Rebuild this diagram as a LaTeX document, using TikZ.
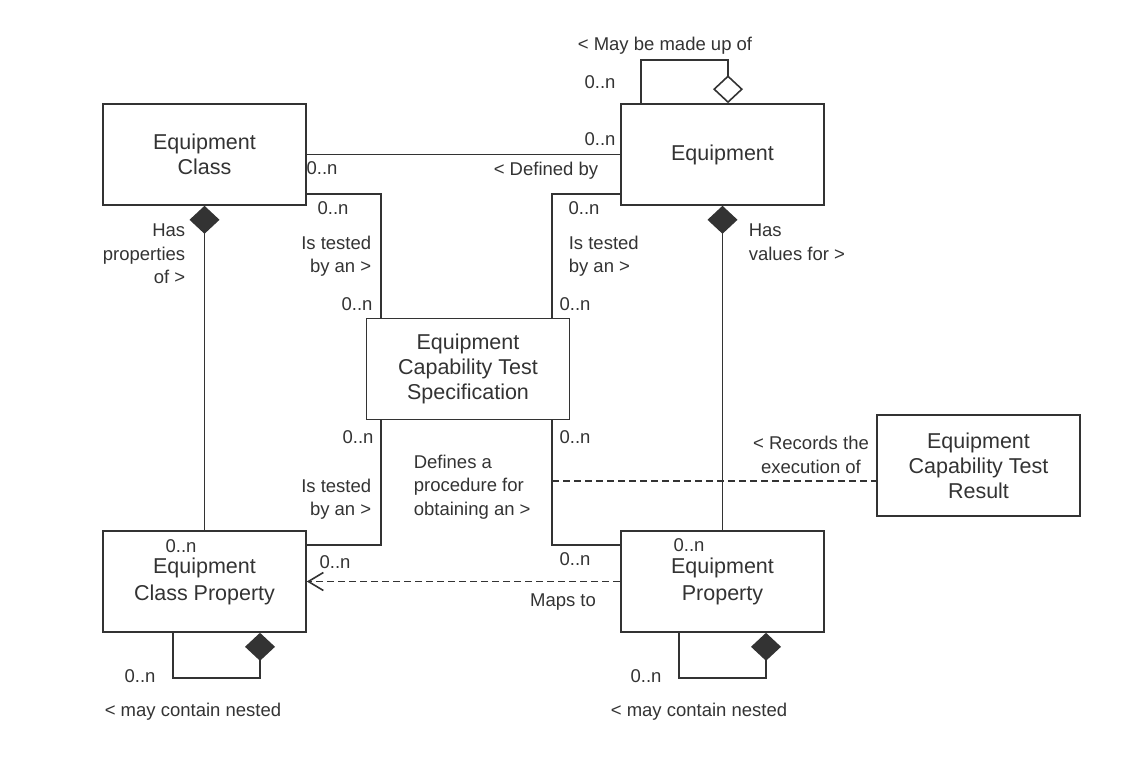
\documentclass[tikz,border=0pt]{standalone}
\usepackage{fontspec}
\setmainfont{Liberation Sans}
\usetikzlibrary{arrows.meta,positioning}
\definecolor{umlgray}{HTML}{333333}

\begin{document}
\begin{tikzpicture}[x=1pt, y=-1pt, line width=1.6pt, color=umlgray,
  box/.style={draw, rectangle, minimum width=203pt, minimum height=101pt, align=center, font=\fontsize{21.5}{25}\selectfont},
  lbl/.style={inner sep=0pt, font=\fontsize{18.5}{23.5}\selectfont},
  comp/.style={-{Diamond[length=28pt, width=30pt]}},
  aggr/.style={-{Diamond[open, length=28pt, width=30pt]}},
  dep/.style={dash pattern=on 7pt off 4pt}]
\path[use as bounding box] (0,0) rectangle (1148,759);
\node[box] (EC) at (204.5,154.5) {Equipment\\Class};
\node[box] (EQ) at (722.5,154.5) {Equipment};
\node[box] (ECTS) at (468,369) {Equipment\\Capability Test\\Specification};
\node[box] (ECTR) at (978.5,465.5) {Equipment\\Capability Test\\Result};
\node[box, font=\fontsize{21.5}{26.5}\selectfont] (ECP) at (204.5,581.5) {Equipment\\Class Property};
\node[box, font=\fontsize{21.5}{26.5}\selectfont] (EP) at (722.5,581.5) {Equipment\\Property};
\draw (EC) -- (EQ);
\draw ([yshift=-39.5pt]EC.east) -| ([xshift=-87pt]ECTS.north);
\draw ([yshift=-39.5pt]EQ.west) -| ([xshift=84pt]ECTS.north);
\draw ([xshift=-87pt]ECTS.south) |- ([yshift=36.5pt]ECP.east);
\draw ([xshift=84pt]ECTS.south) |- ([yshift=36.5pt]EP.west);
\coordinate (recpt) at (552,481);
\draw[dep] (recpt) -- (recpt -| ECTR.west);
\draw[comp] (ECP) -- (EC);
\draw[comp] (EP) -- (EQ);
\draw[dep, -{Straight Barb[length=15pt, width=18pt]}] (EP) -- (ECP);
\draw[aggr] ([xshift=-81.5pt]EQ.north) -- ++(0,-43) -| ([xshift=5.5pt]EQ.north);
\draw[comp] ([xshift=-31.5pt]ECP.south) -- ++(0,45) -| ([xshift=55.5pt]ECP.south);
\draw[comp] ([xshift=-43.5pt]EP.south) -- ++(0,45) -| ([xshift=43.5pt]EP.south);
\node[lbl] (m1) at (322,168) {0..n};
\node[lbl] (m2) at (600,139) {0..n};
\node[lbl, anchor=east] (defby) at (599,171) {< Defined by};
\node[lbl] (m3) at (333,208) {0..n};
\node[lbl, align=right, anchor=east] (test1) at (372,256) {Is tested\\by an >};
\node[lbl] (m4) at (357,304) {0..n};
\node[lbl] (m5) at (584,208) {0..n};
\node[lbl, align=left, anchor=west] (test2) at (568,256) {Is tested\\by an >};
\node[lbl] (m6) at (575,304) {0..n};
\node[lbl] (m7) at (358,437) {0..n};
\node[lbl, align=right, anchor=east] (test3) at (372,499) {Is tested\\by an >};
\node[lbl] (m8) at (335,562) {0..n};
\node[lbl] (m9) at (575,437) {0..n};
\node[lbl] (m10) at (575,559) {0..n};
\node[lbl, align=left, anchor=west] (defines) at (413,487) {Defines a\\procedure for\\obtaining an >};
\node[lbl, align=center] (records) at (811,455) {< Records the\\execution of};
\node[lbl, align=left, anchor=west] (hasval) at (748,242) {Has\\values for >};
\node[lbl] (m11) at (689,545) {0..n};
\node[lbl, align=right, anchor=east] (hasprop) at (186,254) {Has\\properties\\of >};
\node[lbl] (m12) at (181,546) {0..n};
\node[lbl] (maps) at (563,602) {Maps to};
\node[lbl] (m13) at (600,82) {0..n};
\node[lbl] (madeup) at (665,46) {< May be made up of};
\node[lbl] (m14) at (140,676) {0..n};
\node[lbl] (nest1) at (193,712) {< may contain nested};
\node[lbl] (m15) at (646,676) {0..n};
\node[lbl] (nest2) at (699,712) {< may contain nested};
\end{tikzpicture}
\end{document}
